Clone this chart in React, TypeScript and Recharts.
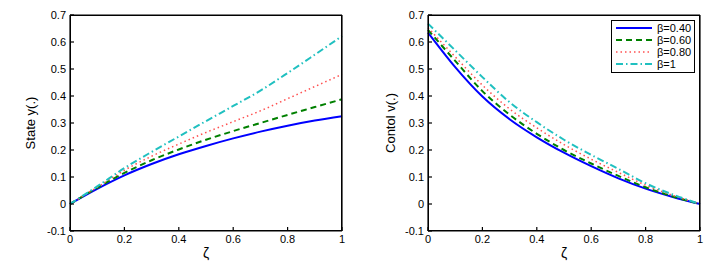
import { LineChart, Line, XAxis, YAxis } from 'recharts'

const ZETA = [0, 0.1, 0.2, 0.3, 0.4, 0.5, 0.6, 0.7, 0.8, 0.9, 1]
const X_TICKS = [0, 0.2, 0.4, 0.6, 0.8, 1]
const Y_TICKS = [-0.1, 0, 0.1, 0.2, 0.3, 0.4, 0.5, 0.6, 0.7]

// state y(.) for each beta
const STATE_040 = [0, 0.056, 0.106, 0.148, 0.184, 0.215, 0.243, 0.268, 0.29, 0.309, 0.325]
const STATE_060 = [0, 0.06, 0.115, 0.162, 0.202, 0.238, 0.27, 0.3, 0.33, 0.359, 0.388]
const STATE_080 = [0, 0.062, 0.125, 0.177, 0.222, 0.265, 0.305, 0.345, 0.39, 0.435, 0.48]
const STATE_1 = [0, 0.065, 0.133, 0.193, 0.25, 0.307, 0.363, 0.42, 0.485, 0.553, 0.622]

// control v(.) for each beta
const CONTROL_040 = [0.635, 0.507, 0.398, 0.314, 0.247, 0.19, 0.14, 0.095, 0.057, 0.026, 0]
const CONTROL_060 = [0.645, 0.53, 0.418, 0.331, 0.26, 0.2, 0.15, 0.104, 0.062, 0.028, 0]
const CONTROL_080 = [0.653, 0.545, 0.44, 0.352, 0.282, 0.22, 0.166, 0.117, 0.07, 0.032, 0]
const CONTROL_1 = [0.668, 0.569, 0.47, 0.377, 0.303, 0.238, 0.182, 0.13, 0.077, 0.035, 0]

const SERIES = [
  { key: 'b040', label: 'β=0.40', color: '#0000ff', dash: undefined, width: 2 },
  { key: 'b060', label: 'β=0.60', color: '#008000', dash: '6 4', width: 2 },
  { key: 'b080', label: 'β=0.80', color: '#ff5050', dash: '1.5 3', width: 1.5 },
  { key: 'b1', label: 'β=1', color: '#20c0c0', dash: '7 3 1.5 3', width: 2 }
]

const stateData = ZETA.map((z, i) => ({
  z,
  b040: STATE_040[i],
  b060: STATE_060[i],
  b080: STATE_080[i],
  b1: STATE_1[i]
}))

const controlData = ZETA.map((z, i) => ({
  z,
  b040: CONTROL_040[i],
  b060: CONTROL_060[i],
  b080: CONTROL_080[i],
  b1: CONTROL_1[i]
}))

const FONT = '"Liberation Sans", Arial, sans-serif'
const tickStyle = { fontSize: 11, fill: '#000', fontFamily: FONT }
const fmt = (v: number) => String(Math.round(v * 10) / 10)

function BoxLegend({ left, top }: { left: number; top: number }): JSX.Element {
  return (
    <div
      style={{
        position: 'absolute',
        left,
        top,
        border: '1px solid #000',
        background: '#fff',
        width: 82,
        padding: '1px 0 2px',
        fontFamily: FONT,
        fontSize: 11
      }}
    >
      {SERIES.map((s) => (
        <div key={s.key} style={{ display: 'flex', alignItems: 'center', height: 12 }}>
          <svg width={44} height={10}>
            <line
              x1={4}
              y1={5}
              x2={40}
              y2={5}
              stroke={s.color}
              strokeWidth={s.width}
              strokeDasharray={s.dash}
            />
          </svg>
          <span style={{ marginLeft: 1 }}>{s.label}</span>
        </div>
      ))}
    </div>
  )
}

interface PanelProps {
  data: Record<string, number>[]
  yLabel: string
  marginLeft: number
  marginRight: number
  width: number
  legend?: boolean
}

function Panel({ data, yLabel, marginLeft, marginRight, width, legend }: PanelProps): JSX.Element {
  const plotLeft = marginLeft + 40
  const plotW = width - plotLeft - marginRight
  return (
    <div style={{ position: 'relative', width, height: 263 }}>
      <LineChart
        width={width}
        height={263}
        data={data}
        margin={{ top: 14, right: marginRight - 1, bottom: 12, left: marginLeft }}
      >
        <XAxis
          dataKey="z"
          type="number"
          domain={[0, 1]}
          ticks={X_TICKS}
          tickFormatter={fmt}
          tick={tickStyle}
          tickSize={-4}
          tickMargin={8}
          height={20}
          stroke="#000"
          strokeWidth={1.2}
        />
        <XAxis
          xAxisId="top"
          orientation="top"
          dataKey="z"
          type="number"
          domain={[0, 1]}
          ticks={X_TICKS}
          tick={false}
          tickSize={-4}
          height={1}
          stroke="#000"
          strokeWidth={1.2}
        />
        <YAxis
          type="number"
          domain={[-0.1, 0.7]}
          ticks={Y_TICKS}
          tickFormatter={fmt}
          tick={tickStyle}
          tickSize={-4}
          tickMargin={8}
          width={40}
          stroke="#000"
          strokeWidth={1.2}
        />
        <YAxis
          yAxisId="right"
          orientation="right"
          type="number"
          domain={[-0.1, 0.7]}
          ticks={Y_TICKS}
          tick={false}
          tickSize={-4}
          width={1}
          stroke="#000"
          strokeWidth={1.2}
        />
        {SERIES.map((s) => (
          <Line
            key={s.key}
            dataKey={s.key}
            type="monotone"
            stroke={s.color}
            strokeWidth={s.width}
            strokeDasharray={s.dash}
            dot={false}
            isAnimationActive={false}
          />
        ))}
      </LineChart>
      <div
        style={{
          position: 'absolute',
          left: plotLeft,
          top: 15,
          width: plotW,
          height: 216,
          boxSizing: 'border-box',
          border: '1.2px solid #000',
          pointerEvents: 'none'
        }}
      />
      {legend && <BoxLegend left={plotLeft + plotW - 89} top={20} />}
      <div
        style={{
          position: 'absolute',
          left: 30,
          top: 123,
          transform: 'translate(-50%, -50%) rotate(-90deg)',
          fontFamily: FONT,
          fontSize: 13,
          whiteSpace: 'nowrap'
        }}
      >
        {yLabel}
      </div>
      <div
        style={{
          position: 'absolute',
          left: plotLeft + plotW / 2,
          top: 253,
          transform: 'translate(-50%, -50%)',
          fontFamily: FONT,
          fontSize: 14
        }}
      >
        ζ
      </div>
    </div>
  )
}

export default function App(): JSX.Element {
  return (
    <div
      style={{
        position: 'fixed',
        top: 0,
        left: 0,
        width: 723,
        height: 263,
        background: '#fff',
        display: 'flex'
      }}
    >
      <Panel data={stateData} yLabel="State y(.)" marginLeft={30} marginRight={18} width={360} />
      <Panel data={controlData} yLabel="Contol v(.)" marginLeft={28} marginRight={23} width={363} legend />
    </div>
  )
}
